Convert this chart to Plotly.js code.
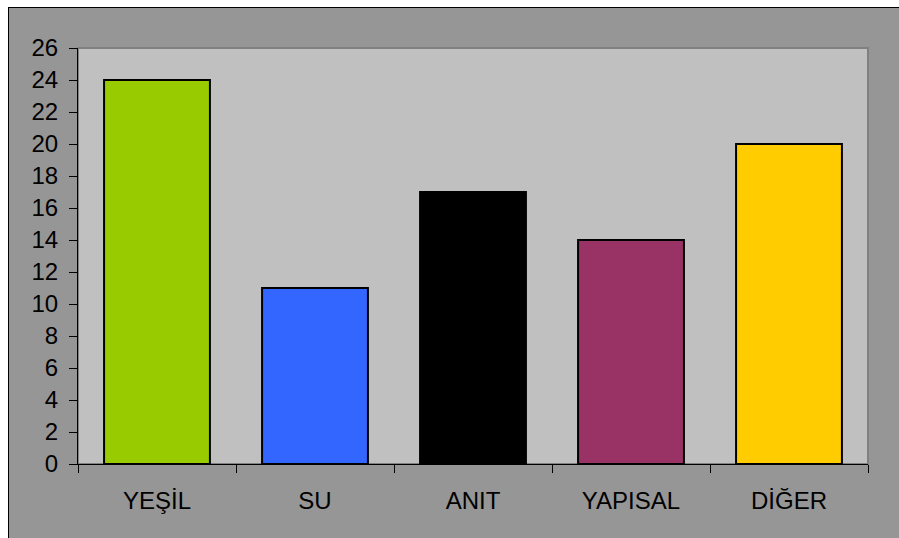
<!DOCTYPE html>
<html>
<head>
<meta charset="utf-8">
<script src="https://cdn.plot.ly/plotly-3.0.1.min.js"></script>
<style>
html, body { margin: 0; padding: 0; background: #ffffff; width: 899px; height: 538px; overflow: hidden; }
#chart { position: absolute; left: 8px; top: 7px; width: 891px; height: 531px; border-left: 1px solid #000; border-top: 1px solid #000; background: #969696; }
</style>
</head>
<body>
<div id="chart"></div>
<script>
const categories = ["YEŞİL", "SU", "ANIT", "YAPISAL", "DİĞER"];
const values = [24, 11, 17, 14, 20];
const barColors = ["#99CC00", "#3366FF", "#000000", "#993366", "#FFCC00"];
const yTickValues = [0, 2, 4, 6, 8, 10, 12, 14, 16, 18, 20, 22, 24, 26];

const trace = {
  type: "bar",
  x: categories,
  y: values,
  marker: { color: barColors, line: { color: "#000000", width: 2 } },
  hoverinfo: "skip"
};

const tickFont = { family: "Liberation Sans, Arial, sans-serif", size: 24, color: "#000000" };

const layout = {
  width: 890,
  height: 530,
  margin: { l: 69, r: 31, t: 40, b: 74 },
  paper_bgcolor: "#969696",
  plot_bgcolor: "#C0C0C0",
  bargap: 0.33,
  showlegend: false,
  font: tickFont,
  xaxis: {
    type: "category",
    showline: true, linecolor: "#000000", linewidth: 1,
    ticks: "outside", ticklen: 8, tickcolor: "#000000", tickwidth: 1,
    tickson: "boundaries",
    showgrid: false, zeroline: false,
    tickfont: tickFont,
    ticklabelstandoff: 15
  },
  yaxis: {
    range: [0, 26],
    tickvals: yTickValues,
    showline: true, linecolor: "#000000", linewidth: 1,
    ticks: "outside", ticklen: 8, tickcolor: "#000000", tickwidth: 1,
    showgrid: false, zeroline: false,
    tickfont: tickFont,
    ticklabelstandoff: 6
  },
  shapes: [{
    type: "rect", xref: "paper", yref: "paper", x0: 0, x1: 1, y0: 0, y1: 1,
    line: { color: "#808080", width: 2 }, layer: "below"
  }]
};

Plotly.newPlot("chart", [trace], layout, { displayModeBar: false, staticPlot: true });
</script>
</body>
</html>
